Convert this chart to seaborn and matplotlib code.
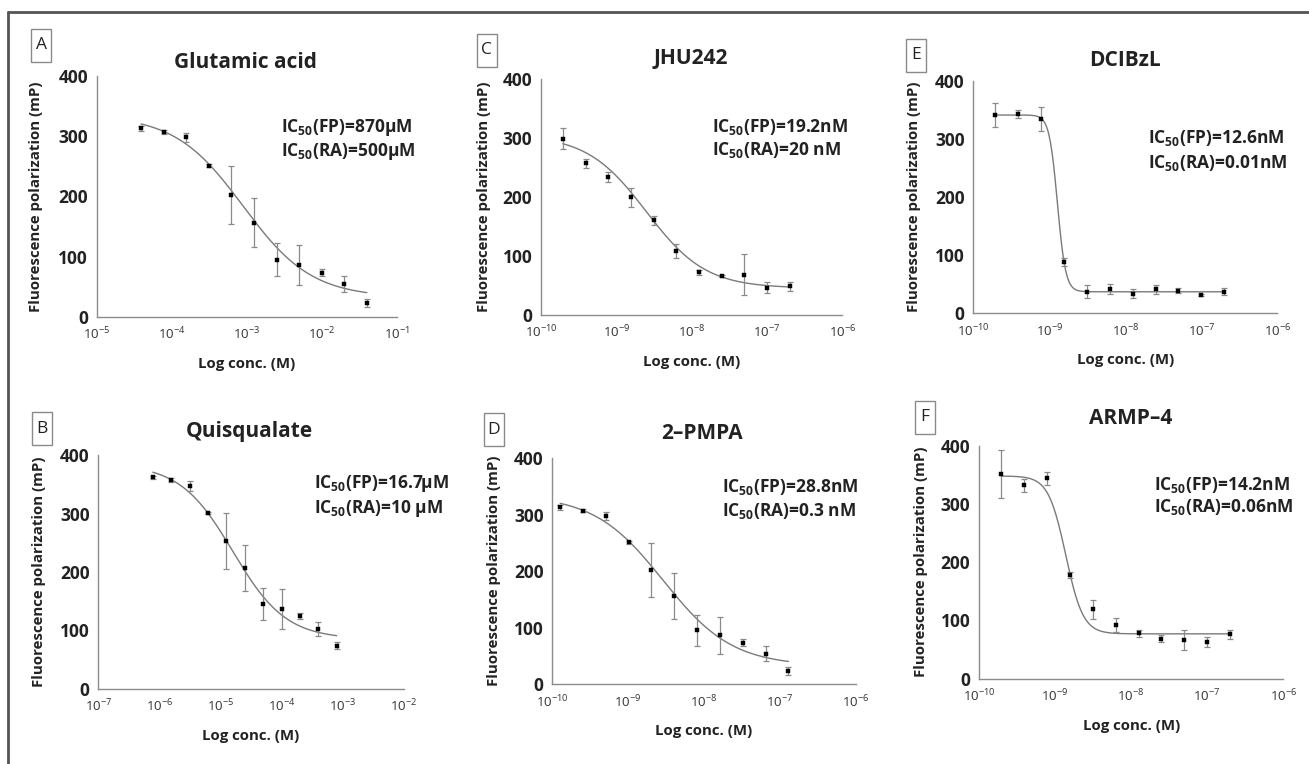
import numpy as np
import matplotlib
matplotlib.use("Agg")
import matplotlib.pyplot as plt
import seaborn as sns
from matplotlib.patches import Rectangle
from matplotlib.lines import Line2D

# ---------------- data ----------------
panel_letters = ["A", "B", "C", "D", "E", "F"]
compounds = ["Glutamic acid", "Quisqualate", "JHU242", "2–PMPA", "DCIBzL", "ARMP–4"]
ic50_fp = ["870µM", "16.7µM", "19.2nM", "28.8nM", "12.6nM", "14.2nM"]
ic50_ra = ["500µM", "10 µM", "20 nM", "0.3 nM", "0.01nM", "0.06nM"]

x_tick_exponents = [
    [-5, -4, -3, -2, -1],
    [-7, -6, -5, -4, -3, -2],
    [-10, -9, -8, -7, -6],
    [-10, -9, -8, -7, -6],
    [-10, -9, -8, -7, -6],
    [-10, -9, -8, -7, -6],
]
y_ticks = [0, 100, 200, 300, 400]

conc_A = [3.9e-5, 7.8e-5, 1.56e-4, 3.125e-4, 6.25e-4, 1.25e-3, 2.5e-3, 5e-3, 1e-2, 2e-2, 4e-2]
mean_A = [313, 307, 298, 251, 202, 156, 95, 86, 73, 54, 23]
err_A = [4, 3, 7, 3, 48, 41, 28, 33, 6, 13, 7]

conc_B = [7.8e-7, 1.56e-6, 3.125e-6, 6.25e-6, 1.25e-5, 2.5e-5, 5e-5, 1e-4, 2e-4, 4e-4, 8e-4]
mean_B = [362, 358, 347, 301, 253, 207, 145, 137, 125, 103, 74]
err_B = [3, 3, 9, 2, 48, 40, 27, 34, 5, 12, 6]

conc_C = [1.95e-10, 3.9e-10, 7.8e-10, 1.56e-9, 3.125e-9, 6.25e-9, 1.25e-8, 2.5e-8, 5e-8, 1e-7, 2e-7]
mean_C = [299, 257, 234, 199, 160, 108, 72, 66, 68, 46, 48]
err_C = [17, 8, 9, 16, 7, 12, 4, 2, 35, 9, 8]

conc_D = [1.27e-10, 2.54e-10, 5.08e-10, 1.02e-9, 2.03e-9, 4.06e-9, 8.1e-9, 1.63e-8, 3.25e-8, 6.5e-8, 1.3e-7]
mean_D = [313, 307, 298, 251, 202, 156, 95, 86, 73, 54, 23]
err_D = [4, 3, 7, 3, 48, 41, 28, 33, 6, 13, 7]

conc_E = [1.95e-10, 3.9e-10, 7.8e-10, 1.56e-9, 3.125e-9, 6.25e-9, 1.25e-8, 2.5e-8, 5e-8, 1e-7, 2e-7]
mean_E = [341, 342, 334, 88, 37, 42, 34, 41, 39, 31, 37]
err_E = [21, 7, 21, 7, 11, 9, 8, 7, 4, 2, 6]

conc_F = [1.95e-10, 3.9e-10, 7.8e-10, 1.56e-9, 3.125e-9, 6.25e-9, 1.25e-8, 2.5e-8, 5e-8, 1e-7, 2e-7]
mean_F = [352, 332, 344, 178, 119, 93, 78, 69, 67, 63, 76]
err_F = [41, 11, 11, 5, 16, 12, 6, 6, 17, 9, 8]

# fitted 4-parameter logistic curves: top, bottom, IC50, Hill slope
fit_top = [335, 385, 305, 335, 341, 348]
fit_bottom = [32, 85, 45, 32, 37, 77]
fit_ic50 = [9e-4, 1.6e-5, 2.5e-9, 2.9e-9, 1.28e-9, 1.38e-9]
fit_hill = [0.95, 1.0, 1.1, 0.95, 8.0, 3.8]

concs = [conc_A, conc_B, conc_C, conc_D, conc_E, conc_F]
means = [mean_A, mean_B, mean_C, mean_D, mean_E, mean_F]
errs = [err_A, err_B, err_C, err_D, err_E, err_F]

# ---------------- layout (pixels) ----------------
W, H = 1309, 764
axes_px = [  # left, top, right, bottom
    (96.7, 76.0, 396.7, 316.7),
    (98.3, 455.3, 403.7, 688.7),
    (541.0, 79.0, 842.3, 314.7),
    (552.3, 458.3, 855.7, 684.0),
    (973.3, 80.7, 1277.3, 313.3),
    (979.0, 445.7, 1283.3, 678.7),
]
title_px = [(245, 62.3), (249.3, 431.7), (690.7, 58.3), (702.3, 433.3), (1125, 60), (1130.7, 418.3)]
box_px = [(41.3, 45), (42.3, 428.7), (486.7, 50.5), (494, 429.5), (916, 55.3), (924.5, 417)]
annot_px = [(281, 127.7, 151.7), (314, 484, 508.3), (711.7, 126.7, 150),
            (721.7, 487.3, 510.7), (1148.3, 138.3, 163.3), (1154, 485, 507.3)]
ylabel_x_px = [36, 39, 484, 494, 914, 921.5]

sns.set_theme(style="white")
plt.rcParams['font.family'] = ['Open Sans', 'DejaVu Sans']
plt.rcParams['axes.unicode_minus'] = False

fig = plt.figure(figsize=(W / 100, H / 100), dpi=100)
fig.patch.set_facecolor("white")


def fx(x):
    return x / W


def fy(y):
    return 1 - y / H


AX_COL = "#8c8c8c"
TXT = "#222222"

for i in range(6):
    l, t, r, b = axes_px[i]
    ax = fig.add_axes([fx(l), fy(b), (r - l) / W, (b - t) / H])
    ax.set_facecolor("none")
    ax.set_xscale("log")
    exps = x_tick_exponents[i]
    ax.set_xlim(10.0 ** exps[0], 10.0 ** exps[-1])
    ax.set_ylim(0, 400)

    c = np.array(concs[i])
    m = np.array(means[i])
    e = np.array(errs[i])

    xs = np.logspace(np.log10(c[0]), np.log10(c[-1]), 300)
    ys = fit_bottom[i] + (fit_top[i] - fit_bottom[i]) / (1 + (xs / fit_ic50[i]) ** fit_hill[i])
    sns.lineplot(x=xs, y=ys, ax=ax, color="#7a7a7a", linewidth=1.0, zorder=2)

    ax.errorbar(c, m, yerr=e, fmt="none", ecolor="#8a8a8a", elinewidth=0.9,
                capsize=2.5, capthick=0.9, zorder=3, clip_on=False)
    sns.scatterplot(x=c, y=m, ax=ax, marker="s", s=9, color="black",
                    edgecolor="black", linewidth=0.3, zorder=4, clip_on=False)

    ax.set_xticks([10.0 ** k for k in exps])
    ax.set_xticklabels([r"10$^{\mathregular{%d}}$" % k for k in exps], fontsize=9.5, color="#333333")
    ax.xaxis.set_minor_locator(matplotlib.ticker.NullLocator())
    ax.set_yticks(y_ticks)
    ax.set_yticklabels([str(v) for v in y_ticks], fontsize=12.5, fontweight="bold", color=TXT)

    for s in ["top", "right"]:
        ax.spines[s].set_visible(False)
    for s in ["left", "bottom"]:
        ax.spines[s].set_color(AX_COL)
        ax.spines[s].set_linewidth(1.0)
    ax.tick_params(axis="both", which="major", direction="inout", length=7.5, width=1.0,
                   color=AX_COL)
    ax.tick_params(axis="y", pad=2.5)
    ax.tick_params(axis="x", pad=3.0)
    ax.set_xlabel("")
    ax.set_ylabel("")

    # axis labels
    fig.text(fx((l + r) / 2), fy(b + 47), "Log conc. (M)", ha="center", va="center",
             fontsize=10.8, fontweight="bold", color=TXT)
    fig.text(fx(ylabel_x_px[i]), fy((t + b) / 2), "Fluorescence polarization (mP)",
             rotation=90, ha="center", va="center", fontsize=10.8, fontweight="bold", color=TXT)

    # title
    tx, ty = title_px[i]
    fig.text(fx(tx), fy(ty), compounds[i], ha="center", va="center",
             fontsize=15, fontweight="bold", color=TXT)

    # panel letter box
    bx, by = box_px[i]
    bw, bh = 20, 33
    fig.patches.append(Rectangle((fx(bx - bw / 2), fy(by + bh / 2)), bw / W, bh / H,
                                 transform=fig.transFigure, fill=False,
                                 edgecolor="#8a8a8a", linewidth=1.0))
    fig.text(fx(bx), fy(by), panel_letters[i], ha="center", va="center",
             fontsize=12.5, color=TXT)

    # IC50 annotation
    axp, a1, a2 = annot_px[i]
    fig.text(fx(axp), fy(a1), r"IC$_{\mathregular{50}}$(FP)=" + ic50_fp[i], ha="left",
             va="center", fontsize=12.5, fontweight="bold", color=TXT)
    fig.text(fx(axp), fy(a2), r"IC$_{\mathregular{50}}$(RA)=" + ic50_ra[i], ha="left",
             va="center", fontsize=12.5, fontweight="bold", color=TXT)

# frame lines (top and left)
fig.lines.append(Line2D([fx(8.3), fx(W)], [fy(12.3), fy(12.3)], transform=fig.transFigure,
                        color="#555555", linewidth=2.0))
fig.lines.append(Line2D([fx(8.3), fx(8.3)], [fy(12.3), fy(H)], transform=fig.transFigure,
                        color="#555555", linewidth=2.0))

fig.savefig("out.png", dpi=100, facecolor="white")
